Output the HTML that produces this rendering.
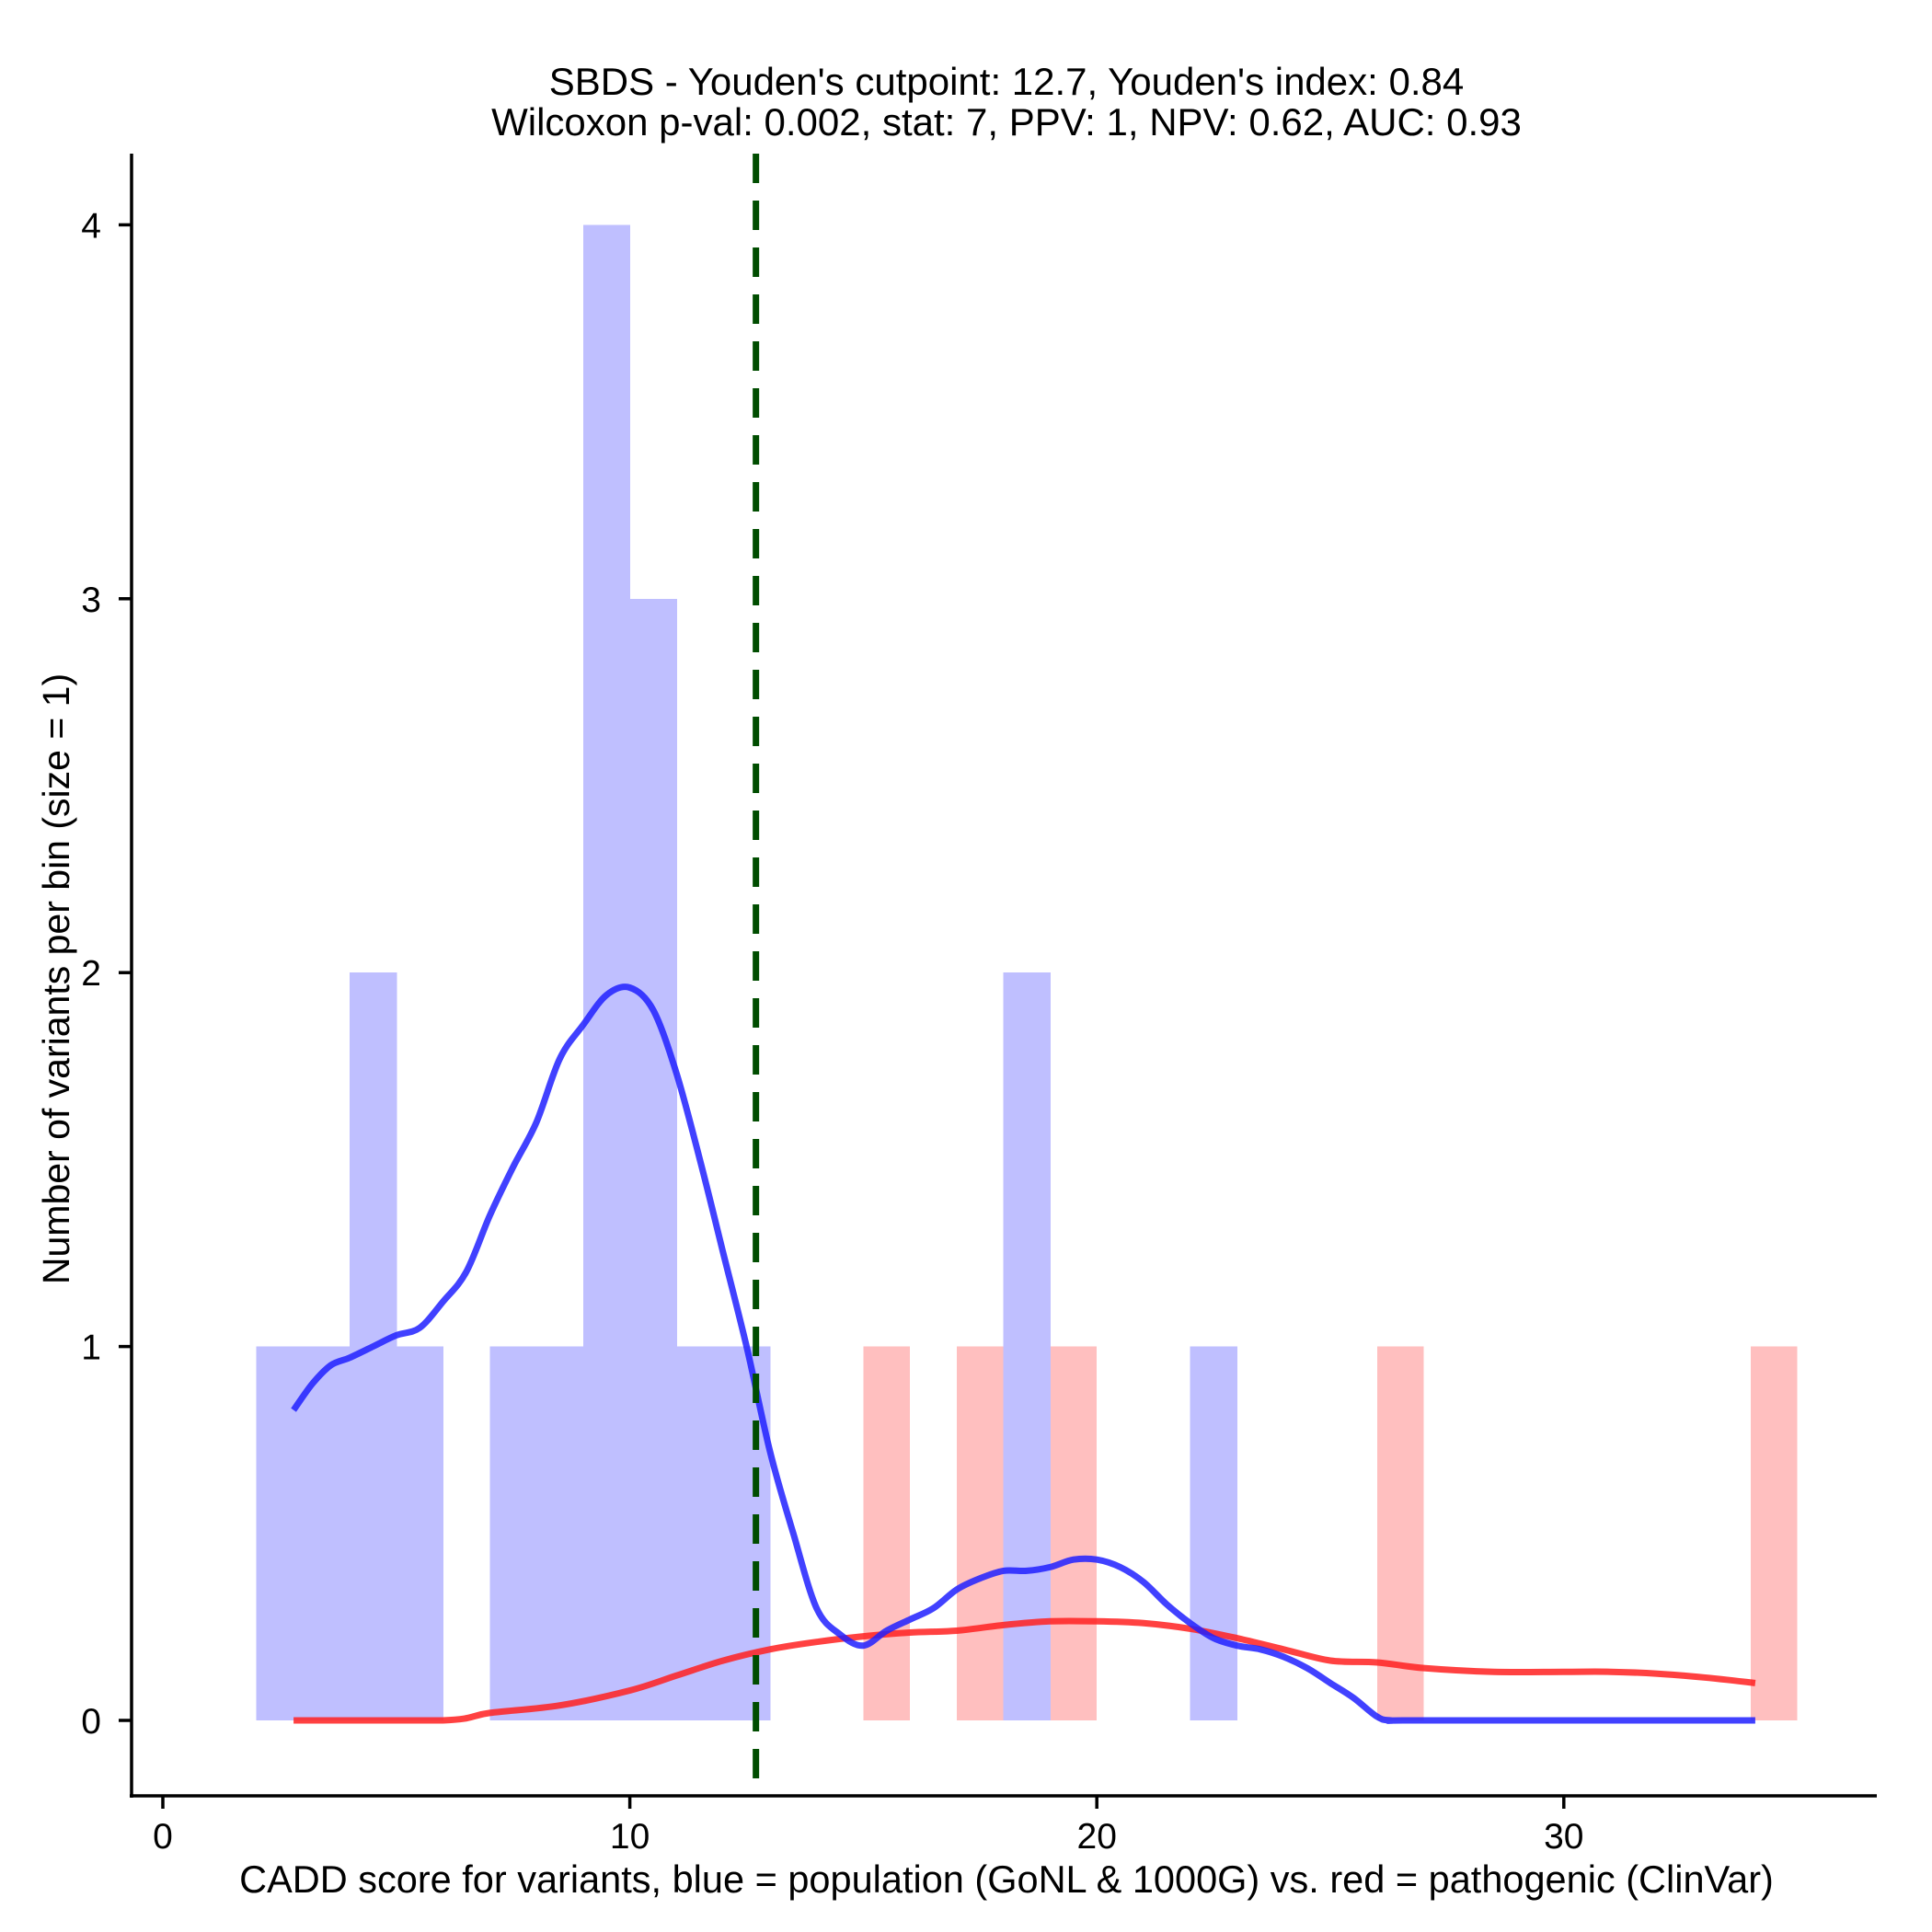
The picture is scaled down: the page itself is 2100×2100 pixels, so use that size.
<!DOCTYPE html>
<html><head><meta charset="utf-8"><style>body{margin:0;background:#fff}svg{display:block;font-family:"Liberation Sans",Arial,sans-serif}</style></head>
<body>
<svg id="chart" width="2100" height="2100" viewBox="0 0 2100 2100">
<g id="bars" shape-rendering="crispEdges"></g><g id="curves"></g><g id="axes"></g>
<text x="1094" y="103" font-size="42" text-anchor="middle">SBDS - Youden's cutpoint: 12.7, Youden's index: 0.84</text>
<text x="1094" y="147" font-size="42" text-anchor="middle">Wilcoxon p-val: 0.002, stat: 7, PPV: 1, NPV: 0.62, AUC: 0.93</text>
<text x="1094" y="2057" font-size="41.5" text-anchor="middle">CADD score for variants, blue = population (GoNL &amp; 1000G) vs. red = pathogenic (ClinVar)</text>
<text transform="translate(75,1064) rotate(-90)" font-size="41" text-anchor="middle">Number of variants per bin (size = 1)</text>
</svg>
<script>
const blueBinStarts=[2,3,4,5,7,8,9,10,11,12,18,22];
const blueCounts=[1,1,2,1,1,1,4,3,1,1,2,1];
const redBinStarts=[15,17,19,26,34];
const redCounts=[1,1,1,1,1];
const blueCurveX=[2.8,3.2,3.6,4,4.5,5,5.5,6,6.5,7,7.5,8,8.5,9,9.5,10,10.5,11,11.5,12,12.5,13,13.5,14,14.5,15,15.5,16,16.5,17,17.5,18,18.5,19,19.5,20,20.5,21,21.5,22,22.5,23,23.5,24,24.5,25,25.5,26,26.3,27,34.1];
const blueCurveY=[0.83,0.9,0.95,0.97,1.0,1.03,1.05,1.12,1.2,1.35,1.48,1.6,1.77,1.86,1.94,1.96,1.9,1.73,1.5,1.25,1.0,0.72,0.5,0.3,0.23,0.2,0.24,0.27,0.3,0.35,0.38,0.4,0.4,0.41,0.43,0.43,0.41,0.37,0.31,0.26,0.22,0.2,0.19,0.17,0.14,0.1,0.06,0.01,0,0,0];
const redCurveX=[2.8,6,7,8.5,10,11,12,13,14,15,16,17,18,19,20,21,22,23,24,25,26,27,28.5,30,31,32,33,34.1];
const redCurveY=[0,0,0.02,0.04,0.08,0.12,0.16,0.19,0.21,0.225,0.235,0.24,0.255,0.265,0.265,0.26,0.245,0.22,0.19,0.16,0.155,0.14,0.13,0.13,0.13,0.125,0.115,0.1];
const xTicks=[0,10,20,30];
const yTicks=[0,1,2,3,4];
const cutpoint=12.7;
const X=v=>177+v*50.76, Y=v=>1870-v*406.4;
const NS='http://www.w3.org/2000/svg';
function mk(t,a,p){const e=document.createElementNS(NS,t);for(const k in a)e.setAttribute(k,a[k]);p.appendChild(e);return e;}
const bars=document.getElementById('bars'),curves=document.getElementById('curves'),axes=document.getElementById('axes');
redBinStarts.forEach((s,i)=>{const r=mk('rect',{x:X(s),y:Y(redCounts[i]),width:X(s+1)-X(s),height:Y(0)-Y(redCounts[i]),fill:'#ffbfbf'},bars);

});
blueBinStarts.forEach((s,i)=>{const r=mk('rect',{x:X(s),y:Y(blueCounts[i]),width:X(s+1)-X(s)+0.5,height:Y(0)-Y(blueCounts[i]),fill:'#bfbfff'},bars);

});
function path(xs,ys){const p=xs.map((x,i)=>[X(x),Y(ys[i])]);let d='M'+p[0][0].toFixed(1)+','+p[0][1].toFixed(1);
for(let i=0;i<p.length-1;i++){const a=p[Math.max(i-1,0)],b=p[i],c=p[i+1],e=p[Math.min(i+2,p.length-1)];
if(c[0]-b[0]>150){d+='L'+c.map(v=>v.toFixed(1));continue;}
const c1=[b[0]+(c[0]-a[0])/6,b[1]+(c[1]-a[1])/6],c2=[c[0]-(e[0]-b[0])/6,c[1]-(e[1]-b[1])/6];
d+='C'+c1.map(v=>v.toFixed(1))+' '+c2.map(v=>v.toFixed(1))+' '+c.map(v=>v.toFixed(1));}return d;}
const rc=mk('path',{d:path(redCurveX,redCurveY),fill:'none',stroke:'#ff2020','stroke-opacity':0.85,'stroke-width':7,'stroke-linejoin':'round'},curves);


const bc=mk('path',{d:path(blueCurveX,blueCurveY),fill:'none',stroke:'#2020ff','stroke-opacity':0.85,'stroke-width':7,'stroke-linejoin':'round'},curves);


const cl=mk('line',{x1:X(cutpoint),x2:X(cutpoint),y1:167,y2:1952,stroke:'#004d00','stroke-width':7,'stroke-dasharray':'32 19'},curves);


const ya=mk('line',{x1:143,x2:143,y1:167,y2:1954,stroke:'#000','stroke-width':3.5},axes);


const xa=mk('line',{x1:141,x2:2040,y1:1952,y2:1952,stroke:'#000','stroke-width':3.5},axes);


yTicks.forEach(v=>{mk('line',{x1:129,x2:143,y1:Y(v),y2:Y(v),stroke:'#000','stroke-width':3.5},axes);
const t=mk('text',{x:110,y:Y(v)+14,'font-size':39,'text-anchor':'end'},axes);t.textContent=v;

});
xTicks.forEach(v=>{mk('line',{x1:X(v),x2:X(v),y1:1952,y2:1966,stroke:'#000','stroke-width':3.5},axes);
const t=mk('text',{x:X(v),y:2009,'font-size':39,'text-anchor':'middle'},axes);t.textContent=v;

});
</script>
</body></html>
